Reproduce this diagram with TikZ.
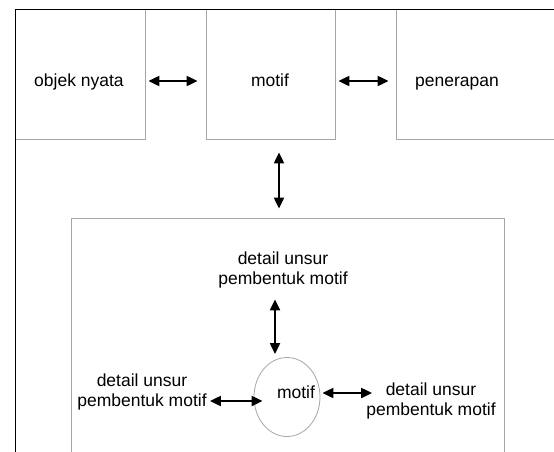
\documentclass[tikz,border=0pt]{standalone}
\usepackage{fontspec}
\setmainfont{Liberation Sans}
\usetikzlibrary{arrows.meta,shapes.geometric}
\begin{document}
\begin{tikzpicture}[x=1pt,y=-1pt,
  box/.style={draw=black!35, line width=0.8pt, fill=white, inner sep=0pt, minimum width=#1},
  lbl/.style={font=\fontsize{17.5}{20}\selectfont, align=center, inner sep=0pt},
  arr/.style={line width=2pt, {Triangle[length=11pt,width=10pt]}-{Triangle[length=11pt,width=10pt]}},
  ell/.style={draw=black!35, line width=0.8pt, ellipse, inner sep=0pt, minimum width=66pt, minimum height=79pt}]
\useasboundingbox (0,0) rectangle (554,451);
\clip (0,0) rectangle (554,451);
% boxes
\node[box=130pt, minimum height=130pt] (b1) at (80,74) {};
\node[box=129pt, minimum height=130pt] (b2) at (270.5,74) {};
\node[box=204pt, minimum height=130pt] (b3) at (498,74) {};
\node[box=433pt, minimum height=252pt] (bot) at (287.5,344) {};
% frame
\draw[black, line width=0.8pt] (560,9) -- (15,9) -- (15,460);
% top labels
\node[lbl, anchor=base] (t1) at (79,86) {objek nyata};
\node[lbl, anchor=base] (t2) at (270,86) {motif};
\node[lbl, anchor=base] (t3) at (457,86) {penerapan};
% top arrows
\draw[arr] ([xshift=3pt,yshift=-7pt]b1.east) -- ([xshift=-8pt,yshift=-7pt]b2.west);
\draw[arr] ([xshift=3pt,yshift=-7pt]b2.east) -- ([xshift=-7pt,yshift=-7pt]b3.west);
\draw[arr] ([xshift=8.5pt,yshift=-13pt]b2.south) -- ([xshift=-8.5pt,yshift=9pt]bot.north);
% inner
\node[ell] (el) at (287,397) {};
\node[lbl, anchor=base] (m) at (296,398) {motif};
\node[lbl] (dt) at (283,270) {detail unsur\\pembentuk motif};
\node[lbl] (dl) at (142,392) {detail unsur\\pembentuk motif};
\node[lbl] (dr) at (431,401) {detail unsur\\pembentuk motif};
\draw[arr] ([xshift=-8pt,yshift=-11pt]dt.south) -- ([xshift=-12pt,yshift=3pt]el.north);
\draw[arr] ([xshift=3pt,yshift=-9pt]dl.east) -- ([xshift=9pt,yshift=-4pt]el.west);
\draw[arr] ([xshift=2pt,yshift=4pt]el.east) -- ([xshift=6pt,yshift=8pt]dr.west);
\end{tikzpicture}
\end{document}
